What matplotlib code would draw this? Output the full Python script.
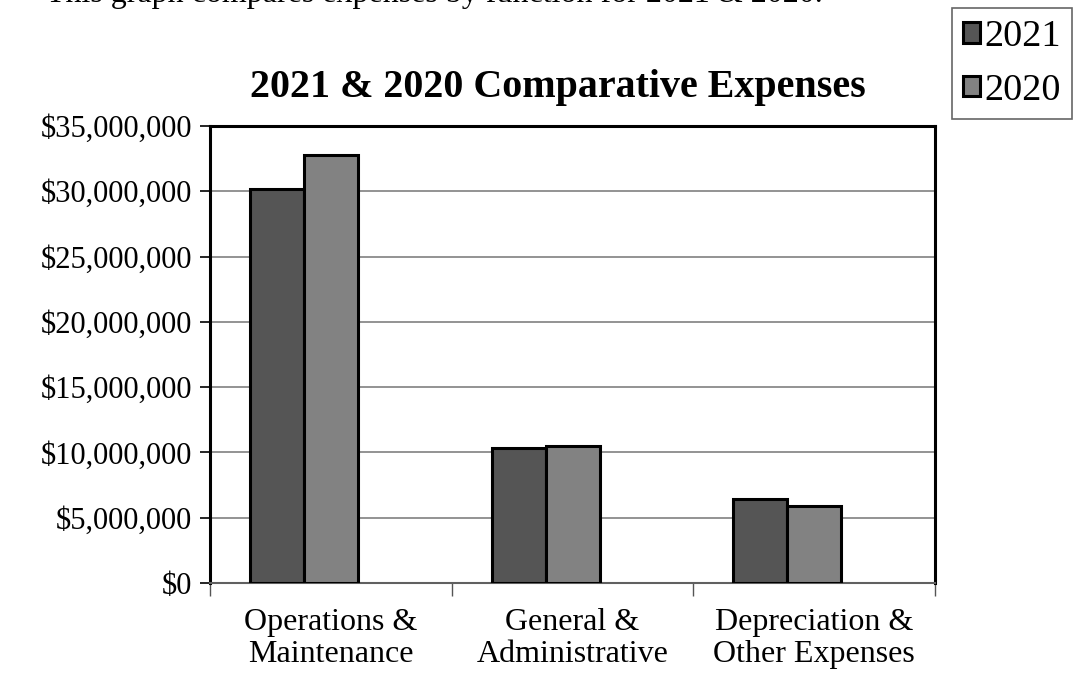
import numpy as np
import matplotlib.pyplot as plt
from matplotlib.ticker import FuncFormatter

categories = ["Operations &\nMaintenance", "General &\nAdministrative", "Depreciation &\nOther Expenses"]
years = ["2021", "2020"]
exp_2021 = [30150000, 10330000, 6450000]
exp_2020 = [32750000, 10480000, 5900000]

plt.rcParams["font.family"] = ["Liberation Serif", "DejaVu Serif"]

fig = plt.figure(figsize=(10.76, 6.73), dpi=100)
ax = fig.add_axes([210 / 1076, 1 - 583 / 673, 725 / 1076, 457 / 673])

x = np.arange(len(categories))
width = 0.2234
start = -0.5 + 0.1655
b1 = ax.bar(x + start + width / 2, exp_2021, width, color="#555555",
            edgecolor="black", linewidth=2.2, label=years[0], zorder=3)
b2 = ax.bar(x + start + 1.5 * width, exp_2020, width, color="#828282",
            edgecolor="black", linewidth=2.2, label=years[1], zorder=3)

ax.set_xlim(-0.5, 2.5)
ax.set_ylim(0, 35000000)
ax.set_yticks(np.arange(0, 35000001, 5000000))
ax.yaxis.set_major_formatter(FuncFormatter(lambda v, p: f"${v:,.0f}"))
ax.grid(axis="y", color="#808080", linewidth=1.2, zorder=0)

ax.set_xticks(x)
ax.set_xticklabels(categories, fontsize=23, linespacing=1.12)
ax.set_xticks(np.arange(-0.5, 3.0, 1.0), minor=True)
ax.tick_params(axis="x", which="major", length=0, pad=18)
ax.tick_params(axis="x", which="minor", length=9, width=1, color="#555555")
ax.tick_params(axis="y", labelsize=22, length=7, width=1.2, pad=6)

for side in ["left", "top", "right"]:
    ax.spines[side].set_linewidth(2.2)
    ax.spines[side].set_color("black")
ax.spines["bottom"].set_linewidth(1.5)
ax.spines["bottom"].set_color("#606060")

fig.text(558 / 1076, 1 - 88 / 673, "2021 & 2020 Comparative Expenses",
         fontsize=28.8, fontweight="bold", ha="center", va="center")

fig.text(46 / 1076, 1 - 2 / 673, "This graph compares expenses by function for 2021 & 2020.",
         fontsize=23, ha="left", va="baseline")

leg = fig.legend(handles=[b1, b2], loc="upper right",
                 bbox_to_anchor=(1072 / 1076, 1 - 8 / 673), fontsize=27.5,
                 frameon=True, fancybox=False, edgecolor="#404040",
                 handlelength=0.45, handleheight=0.45, handletextpad=0.1,
                 labelspacing=0.5, borderpad=0.3, borderaxespad=0)
leg.get_frame().set_linewidth(1.2)

fig.savefig("out.png", dpi=100)
